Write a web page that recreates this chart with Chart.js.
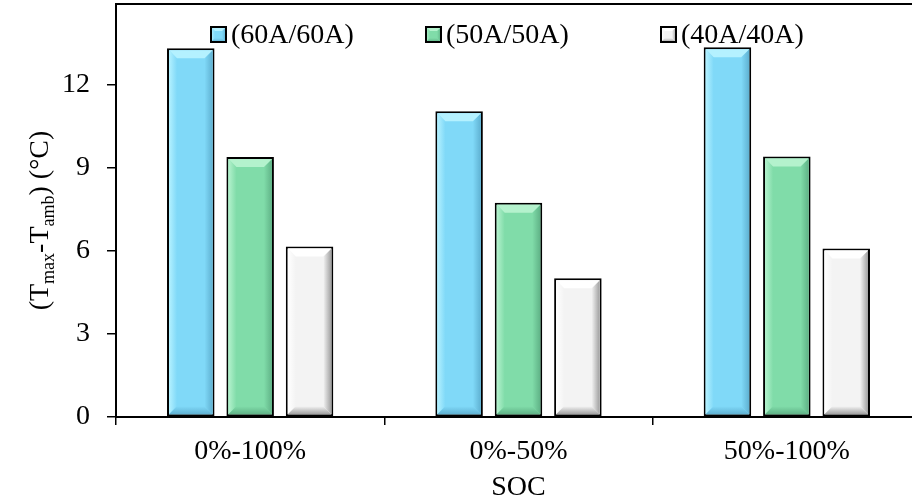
<!DOCTYPE html>
<html>
<head>
<meta charset="utf-8">
<script src="https://cdn.jsdelivr.net/npm/chart.js@4.4.1/dist/chart.umd.min.js"></script>
<style>
  html, body { margin: 0; padding: 0; background: #fff; overflow: hidden; }
  #wrap { width: 930px; height: 502px; }
</style>
</head>
<body>
<div id="wrap"><canvas id="chart" width="930" height="502"></canvas></div>
<script>
// data
const categories = ['0%-100%', '0%-50%', '50%-100%'];
const seriesLabels = ['(60A/60A)', '(50A/50A)', '(40A/40A)'];
const values60A = [13.3, 11.03, 13.34];
const values50A = [9.38, 7.73, 9.4];
const values40A = [6.15, 5.01, 6.08];
const yTicks = [0, 3, 6, 9, 12];
const xTitle = 'SOC';
const yTitleParts = [['(T', false], ['max', true], ['-T', false], ['amb', true], [') (°C)', false]];

const faceColors = ['#80d9f8', '#80dca9', '#f3f3f3'];
const lightColors = ['#b4f1ff', '#b4f2cd', '#ffffff'];
const darkColors = ['#5fb1d2', '#60b387', '#9f9f9f'];
const FONT = "'Liberation Serif', 'Times New Roman', serif";

function drawBevel(ctx, x0, y0, x1, y1, b, i) {
  const poly = (pts, fill) => {
    ctx.beginPath();
    ctx.moveTo(pts[0][0], pts[0][1]);
    pts.slice(1).forEach(p => ctx.lineTo(p[0], p[1]));
    ctx.closePath();
    ctx.fillStyle = fill;
    ctx.fill();
  };
  let g = ctx.createLinearGradient(x0, 0, x0 + b, 0);
  g.addColorStop(0, lightColors[i]);
  g.addColorStop(1, faceColors[i]);
  poly([[x0, y0], [x0 + b, y0 + b], [x0 + b, y1 - b], [x0, y1]], g);
  g = ctx.createLinearGradient(x1 - b, 0, x1, 0);
  g.addColorStop(0, faceColors[i]);
  g.addColorStop(1, darkColors[i]);
  poly([[x1, y0], [x1, y1], [x1 - b, y1 - b], [x1 - b, y0 + b]], g);
  g = ctx.createLinearGradient(0, y1 - b, 0, y1);
  g.addColorStop(0, faceColors[i]);
  g.addColorStop(1, darkColors[i]);
  poly([[x0, y1], [x1, y1], [x1 - b, y1 - b], [x0 + b, y1 - b]], g);
  poly([[x0, y0], [x1, y0], [x1 - b, y0 + b], [x0 + b, y0 + b]], lightColors[i]);
}

const bevelPlugin = {
  id: 'bevel',
  afterDatasetsDraw(chart) {
    const ctx = chart.ctx;
    ctx.save();
    chart.data.datasets.forEach((ds, di) => {
      chart.getDatasetMeta(di).data.forEach(bar => {
        const { x, y, base, width } = bar.getProps(['x', 'y', 'base', 'width'], true);
        const bw = 2;
        drawBevel(ctx, x - width / 2 + bw, y + bw, x + width / 2 - bw, base - bw, 8, di);
      });
    });
    ctx.restore();
  }
};

// legend inside the plot, top/right frame, y title with subscripts
const decorPlugin = {
  id: 'decor',
  afterDraw(chart) {
    const ctx = chart.ctx;
    const area = chart.chartArea;
    ctx.save();

    ctx.strokeStyle = '#000';
    ctx.lineWidth = 2;
    ctx.beginPath();
    ctx.moveTo(area.left - 1, area.top);
    ctx.lineTo(area.right, area.top);
    ctx.lineTo(area.right, area.bottom);
    ctx.stroke();

    // legend
    const legendX = [94, 309, 544];
    ctx.font = '28px ' + FONT;
    ctx.textBaseline = 'alphabetic';
    chart.data.datasets.forEach((ds, i) => {
      const sx = area.left + legendX[i];
      const sy = 26;
      ctx.fillStyle = faceColors[i];
      ctx.fillRect(sx, sy, 17, 17);
      drawBevel(ctx, sx + 1, sy + 1, sx + 16, sy + 16, 4, i);
      ctx.strokeStyle = '#000';
      ctx.lineWidth = 2;
      ctx.strokeRect(sx + 1, sy + 1, 15, 15);
      ctx.fillStyle = '#000';
      ctx.fillText(ds.label, sx + 21, 43);
    });

    // y title
    ctx.translate(48, (area.top + area.bottom) / 2 + 10);
    ctx.rotate(-Math.PI / 2);
    const fontFor = sub => (sub ? '18px ' : '28px ') + FONT;
    let total = 0;
    yTitleParts.forEach(([t, sub]) => { ctx.font = fontFor(sub); total += ctx.measureText(t).width; });
    let px = -total / 2;
    ctx.fillStyle = '#000';
    yTitleParts.forEach(([t, sub]) => {
      ctx.font = fontFor(sub);
      ctx.fillText(t, px, sub ? 6 : 0);
      px += ctx.measureText(t).width;
    });
    ctx.restore();
  }
};

const datasets = [values60A, values50A, values40A].map((vals, i) => ({
  label: seriesLabels[i],
  data: vals,
  backgroundColor: faceColors[i],
  borderColor: '#000',
  borderWidth: 2,
  borderSkipped: false,
  categoryPercentage: 0.664,
  barPercentage: 0.8
}));

new Chart(document.getElementById('chart'), {
  type: 'bar',
  data: { labels: categories, datasets },
  options: {
    responsive: false,
    animation: false,
    layout: { padding: { left: 0, top: 4, right: 9, bottom: 0 } },
    plugins: { legend: { display: false }, tooltip: { enabled: false } },
    scales: {
      x: {
        afterFit: s => { s.height = 85; s.paddingLeft = 0; s.paddingRight = 0; },
        border: { color: '#000', width: 2 },
        grid: { drawOnChartArea: false, color: '#000', lineWidth: 1.5, tickLength: 8 },
        ticks: { color: '#000', font: { family: FONT, size: 28 }, padding: 10 },
        title: { display: true, text: xTitle, color: '#000', font: { family: FONT, size: 28, lineHeight: 1 }, padding: 0 }
      },
      y: {
        min: 0,
        max: 14.9,
        afterFit: s => { s.width = 116; s.paddingTop = 0; s.paddingBottom = 0; },
        afterBuildTicks: s => { s.ticks = yTicks.map(v => ({ value: v })); },
        border: { color: '#000', width: 2 },
        grid: { drawOnChartArea: false, color: '#000', lineWidth: 1.5, tickLength: 9 },
        ticks: { color: '#000', font: { family: FONT, size: 28 }, padding: 17 }
      }
    }
  },
  plugins: [bevelPlugin, decorPlugin]
});
</script>
</body>
</html>
